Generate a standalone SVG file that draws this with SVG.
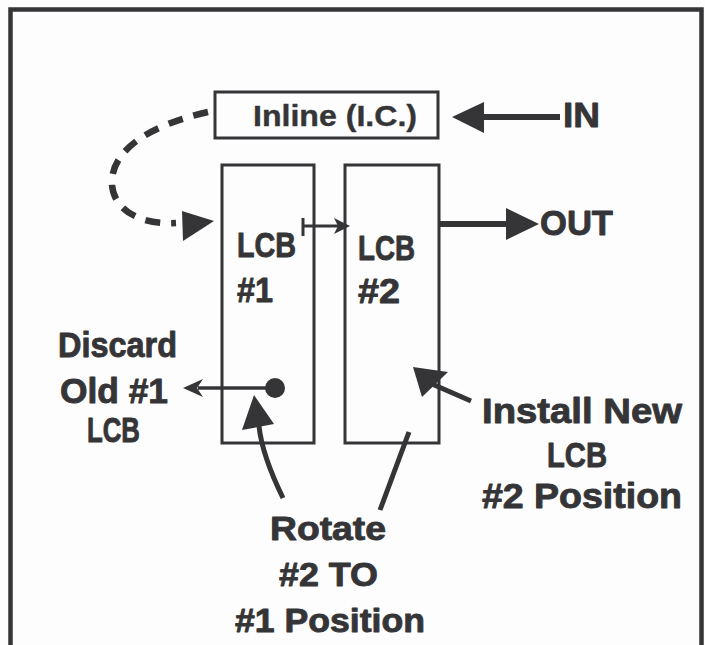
<svg xmlns="http://www.w3.org/2000/svg" width="705" height="645" viewBox="0 0 705 645">
<style>
  .ink{fill:#353538}
  .box{fill:none;stroke:#353538;stroke-width:3}
  .ln{fill:none;stroke:#353538;stroke-linecap:butt}
  text{font-family:"Liberation Sans",Arial,sans-serif;font-weight:bold;fill:#353538;stroke:#353538;stroke-width:0.9;stroke-linejoin:round}
  .t35{font-size:35px}
  .t34{font-size:34px}
  .t30{font-size:30px;stroke-width:0.4}
</style>
<rect x="0" y="0" width="705" height="645" fill="#fdfdfd"/>
<path d="M10.5,660 V9.5 H701.5 V660" fill="none" stroke="#353538" stroke-width="4.5"/>

<g id="inline">
  <rect class="box" x="215" y="92" width="223" height="46"/>
  <text class="t30" x="253" y="126" textLength="164" lengthAdjust="spacingAndGlyphs">Inline (I.C.)</text>
</g>
<g id="lcb1">
  <rect class="box" x="222" y="165" width="92" height="278"/>
  <text class="t35" x="237" y="257" textLength="59" lengthAdjust="spacingAndGlyphs">LCB</text>
  <text class="t35" x="237" y="302" textLength="36" lengthAdjust="spacingAndGlyphs">#1</text>
</g>
<g id="lcb2">
  <rect class="box" x="345" y="165" width="94" height="278"/>
  <text class="t35" x="358" y="260" textLength="57" lengthAdjust="spacingAndGlyphs">LCB</text>
  <text class="t35" x="358" y="303" textLength="42" lengthAdjust="spacingAndGlyphs">#2</text>
</g>
<g id="in-label">
  <text class="t35" x="563" y="127" textLength="37" lengthAdjust="spacingAndGlyphs">IN</text>
</g>
<g id="out-label">
  <text class="t35" x="540" y="235" textLength="73" lengthAdjust="spacingAndGlyphs">OUT</text>
</g>
<g id="discard">
  <text class="t35" x="58" y="357" textLength="119" lengthAdjust="spacingAndGlyphs">Discard</text>
  <text class="t35" x="60" y="403" textLength="108" lengthAdjust="spacingAndGlyphs">Old #1</text>
  <text class="t35" x="87" y="442" textLength="53" lengthAdjust="spacingAndGlyphs">LCB</text>
</g>
<g id="install">
  <text class="t35" x="482" y="423" textLength="200" lengthAdjust="spacingAndGlyphs">Install New</text>
  <text class="t35" x="547" y="467" textLength="60" lengthAdjust="spacingAndGlyphs">LCB</text>
  <text class="t35" x="482" y="508" textLength="200" lengthAdjust="spacingAndGlyphs">#2 Position</text>
</g>
<g id="rotate">
  <text class="t34" x="270" y="540" textLength="116" lengthAdjust="spacingAndGlyphs">Rotate</text>
  <text class="t34" x="279" y="586" textLength="99" lengthAdjust="spacingAndGlyphs">#2 TO</text>
  <text class="t34" x="235" y="632" textLength="190" lengthAdjust="spacingAndGlyphs">#1 Position</text>
</g>

<g id="connectors">
  <!-- IN arrow -->
  <line class="ln" x1="480" y1="117" x2="560" y2="117" stroke-width="6"/>
  <polygon class="ink" points="452,117 484,102 484,133"/>
  <!-- OUT arrow -->
  <line class="ln" x1="439" y1="224" x2="508" y2="224" stroke-width="6"/>
  <polygon class="ink" points="539,224 506,208 506,240"/>
  <!-- dashed loop -->
  <path class="ln" d="M208,112 C150,125 110,150 112,185 C114,210 140,225 176,223" stroke-width="6.5" stroke-dasharray="15,11"/>
  <polygon class="ink" points="214,221 182,211 183,241"/>
  <!-- small LCB1 -> LCB2 arrow -->
  <line class="ln" x1="303" y1="218" x2="303" y2="236" stroke-width="3"/>
  <line class="ln" x1="303" y1="226" x2="342" y2="226" stroke-width="3"/>
  <polygon class="ink" points="350,226 334,218 338,226 334,234"/>
  <!-- discard arrow -->
  <circle class="ink" cx="275" cy="388" r="10"/>
  <line class="ln" x1="275" y1="388" x2="198" y2="388" stroke-width="3.5"/>
  <polygon class="ink" points="183,388 203,379 197,388 203,397"/>
  <!-- rotate arrow -->
  <path class="ln" d="M283,498 Q262,455 259,426" stroke-width="5"/>
  <polygon class="ink" points="254,395 242,430 274,424"/>
  <!-- rotate line to LCB2 -->
  <line class="ln" x1="409" y1="432" x2="380" y2="510" stroke-width="5"/>
  <!-- install arrow -->
  <line class="ln" x1="432" y1="384" x2="471" y2="401" stroke-width="5"/>
  <polygon class="ink" points="413,367 422,397 448,372"/>
</g>
</svg>
